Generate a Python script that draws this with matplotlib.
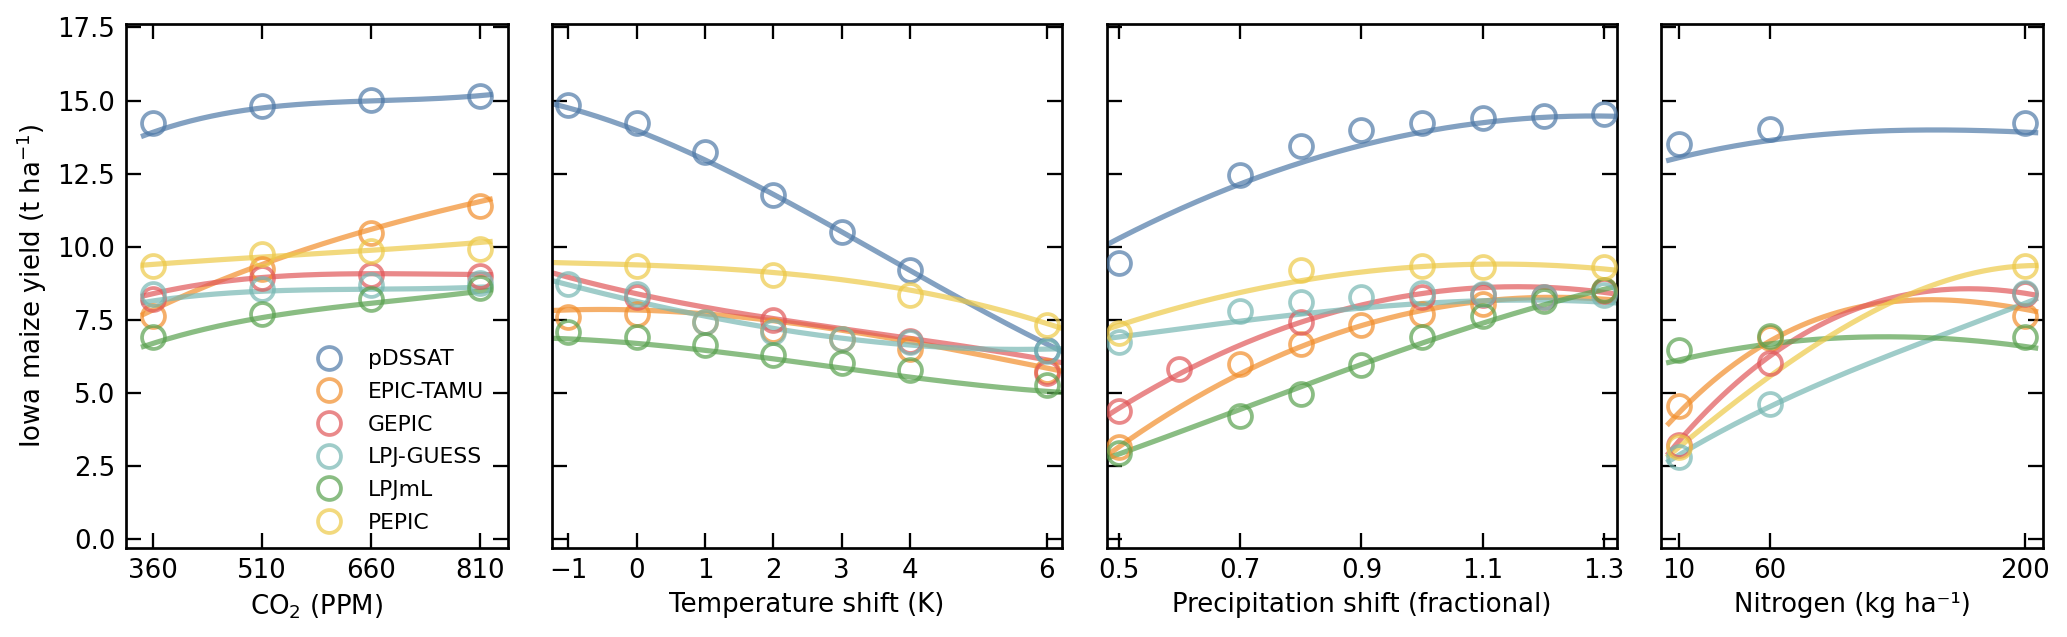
import numpy as np
import matplotlib.pyplot as plt

nan = np.nan

models = ["pDSSAT", "EPIC-TAMU", "GEPIC", "LPJ-GUESS", "LPJmL", "PEPIC"]
colors = ["#4e79a7", "#f28e2b", "#e15759", "#76b7b2", "#59a14f", "#edc948"]

# CO2 panel
co2_x = [360, 510, 660, 810]
co2_pts = [
    [14.25, 14.81, 15.01, 15.17],
    [7.65, 9.24, 10.46, 11.39],
    [8.23, 8.94, 9.04, 9.01],
    [8.40, 8.55, 8.70, 8.75],
    [6.92, 7.69, 8.20, 8.60],
    [9.35, 9.75, 9.87, 9.91],
]
co2_fit = [
    [13.92, 14.75, 14.99, 15.17],
    [7.85, 9.40, 10.60, 11.55],
    [8.40, 8.95, 9.08, 9.05],
    [8.15, 8.48, 8.55, 8.62],
    [6.70, 7.58, 8.07, 8.48],
    [9.40, 9.65, 9.88, 10.15],
]

# temperature panel
temp_x = [-1, 0, 1, 2, 3, 4, 6]
temp_pts = [
    [14.85, 14.22, 13.23, 11.76, 10.49, 9.22, 6.48],
    [7.61, 7.69, 7.44, 7.14, 6.86, 6.50, 5.76],
    [nan, 8.30, nan, 7.51, nan, 6.78, 5.67],
    [8.72, 8.38, 7.42, 7.10, 6.86, 6.75, 6.45],
    [7.10, 6.92, 6.64, 6.31, 6.03, 5.78, 5.26],
    [nan, 9.35, nan, 9.04, nan, 8.34, 7.31],
]
temp_fit = [
    [14.75, 13.98, 12.98, 11.76, 10.56, 9.17, 6.68],
    [7.83, 7.86, 7.72, 7.44, 7.14, 6.78, 5.85],
    [8.95, 8.41, 7.95, 7.51, 7.20, 6.89, 6.13],
    [8.69, 8.16, 7.61, 7.20, 6.89, 6.64, 6.50],
    [6.86, 6.68, 6.45, 6.20, 5.85, 5.53, 5.06],
    [9.45, 9.38, 9.28, 9.13, 8.87, 8.52, 7.38],
]

# precipitation panel
prec_x = [0.5, 0.6, 0.7, 0.8, 0.9, 1.0, 1.1, 1.2, 1.3]
prec_pts = [
    [9.45, nan, 12.45, 13.46, 13.98, 14.22, 14.40, 14.47, 14.53],
    [3.15, nan, 5.99, 6.68, 7.31, 7.69, 8.03, nan, 8.52],
    [4.37, 5.81, nan, 7.44, nan, 8.30, 8.34, 8.27, 8.48],
    [6.75, nan, 7.79, 8.11, 8.27, 8.41, 8.39, 8.30, 8.34],
    [2.95, nan, 4.23, 4.98, 5.95, 6.92, 7.65, 8.16, 8.52],
    [7.06, nan, nan, 9.20, nan, 9.34, 9.31, nan, 9.31],
]
prec_fit_x = [0.5, 0.7, 0.9, 1.1, 1.3]
prec_fit = [
    [10.28, 12.15, 13.46, 14.25, 14.47],
    [3.15, 5.65, 7.31, 8.14, 8.21],
    [4.47, 6.64, 8.00, 8.61, 8.44],
    [6.92, 7.44, 7.93, 8.14, 8.11],
    [2.91, 4.43, 5.99, 7.38, 8.55],
    [7.31, 8.44, 9.13, 9.41, 9.24],
]

# nitrogen panel
nit_x = [10, 60, 200]
nit_pts = [
    [13.53, 14.02, 14.22],
    [4.54, 6.89, 7.65],
    [3.22, 6.02, 8.39],
    [2.81, 4.61, 8.41],
    [6.48, 6.96, 6.92],
    [3.15, nan, 9.35],
]
nit_fit_x = [10, 60, 130, 200]
nit_fit = [
    [13.05, 13.64, 13.98, 13.92],
    [4.33, 6.78, 8.14, 7.86],
    [3.36, 6.27, 8.30, 8.41],
    [2.88, 4.54, 6.40, 8.07],
    [6.13, 6.68, 6.92, 6.59],
    [3.15, 5.58, 8.20, 9.35],
]

panels = [
    (co2_x, co2_pts, co2_x, co2_fit, (322, 848.5), [360, 510, 660, 810], "CO$_2$ (PPM)"),
    (temp_x, temp_pts, temp_x, temp_fit, (-1.243, 6.22), [-1, 0, 1, 2, 3, 4, 6], "Temperature shift (K)"),
    (prec_x, prec_pts, prec_fit_x, prec_fit, (0.4804, 1.3204), [0.5, 0.7, 0.9, 1.1, 1.3], "Precipitation shift (fractional)"),
    (nit_x, nit_pts, nit_fit_x, nit_fit, (0.1, 210), [10, 60, 200], "Nitrogen (kg ha\u207b\u00b9)"),
]

lefts = [0.0608, 0.2669, 0.5354, 0.8036]
widths = [0.1851, 0.2467, 0.2467, 0.1850]

fig = plt.figure(figsize=(2067 / 150, 637 / 150), dpi=150)

for k, (px, pts, fx, fits, xlim, xticks, xlabel) in enumerate(panels):
    ax = fig.add_axes([lefts[k], 0.1402, widths[k], 0.8217])
    span = max(px) - min(px)
    xx = np.linspace(min(px) - 0.03 * span, max(px) + 0.03 * span, 200)
    for i, m in enumerate(models):
        c = np.polyfit(fx, fits[i], 3)
        ax.plot(xx, np.polyval(c, xx), color=colors[i], lw=2.5, alpha=0.7, zorder=2)
        ax.plot(px, pts[i], ls="none", marker="o", ms=11, mfc="none", mew=1.8,
                mec=colors[i], alpha=0.7, label=m, zorder=3)
    ax.set_xlim(xlim)
    ax.set_ylim(-0.29, 17.61)
    ax.set_xticks(xticks)
    ax.set_yticks(np.arange(0, 17.6, 2.5))
    ax.set_xlabel(xlabel, fontsize=12.5)
    ax.tick_params(direction="in", length=7, width=1.1, top=True, right=True,
                   labelsize=12.5, pad=5)
    for s in ax.spines.values():
        s.set_linewidth(1.3)
    if k == 0:
        ax.set_ylabel("Iowa maize yield (t ha$^{-1}$)", fontsize=12.5)
        ax.legend(loc="lower right", frameon=False, fontsize=10.5,
                  labelspacing=0.58, borderaxespad=0.4,
                  bbox_to_anchor=(0.983, -0.005))
    else:
        ax.set_yticklabels([])

fig.savefig("out.png", dpi=150)
